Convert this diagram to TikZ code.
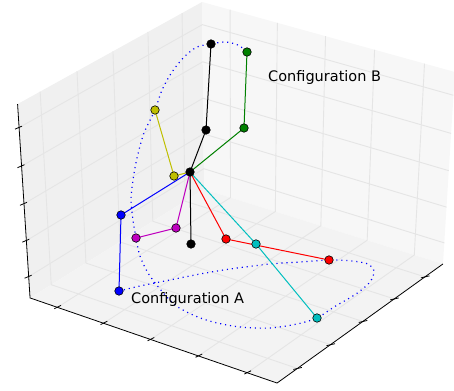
\documentclass[tikz,border=0pt]{standalone}
\usepackage{fontspec}
\setmainfont{DejaVu Sans}
\definecolor{mplyellow}{rgb}{0.75,0.75,0}
\definecolor{mplcyan}{rgb}{0,0.75,0.75}
\definecolor{mplmag}{rgb}{0.75,0,0.75}
\definecolor{mplgreen}{rgb}{0,0.5,0}
\definecolor{paneLc}{RGB}{240,240,240}
\definecolor{paneRc}{RGB}{247,247,247}
\definecolor{floorc}{RGB}{243,243,243}
\definecolor{gridc}{RGB}{229,229,229}
% perspective projection (elev 35, azim -55, dist 10), result in pixel coords
\newcommand\Pj[4]{%
 \pgfmathsetmacro\Pu{0.8192*(#2)+0.5736*(#3)}%
 \pgfmathsetmacro\Pv{-0.3290*(#2)+0.4699*(#3)+0.8192*(#4)}%
 \pgfmathsetmacro\Pd{10-(0.4699*(#2)-0.6711*(#3)+0.5736*(#4))}%
 \pgfmathsetmacro\Px{238.5+3050*\Pu/\Pd}%
 \pgfmathsetmacro\Py{187.1-2353*\Pv/\Pd}%
 \coordinate (#1) at (\Px,\Py);}
\begin{document}
\begin{tikzpicture}[x=1pt,y=-1pt,
  gridline/.style={draw=gridc,line width=0.9pt},
  axisline/.style={draw=black,line width=0.8pt},
  limb/.style={line width=1pt},
  marker/.style={circle,inner sep=0pt,minimum size=8.5pt,draw=black,line width=0.6pt},
  pathdots/.style={draw=blue,line width=1.2pt,dash pattern=on 1.1pt off 3.9pt},
  lab/.style={anchor=base west,inner sep=0pt,font=\fontsize{14.5}{17}\selectfont,text=black}]
\useasboundingbox (0,0) rectangle (454,390);
% box corners
\Pj{L}{-0.5}{-0.5}{-0.5}
\Pj{F}{0.5}{-0.5}{-0.5}
\Pj{R}{0.5}{0.5}{-0.5}
\Pj{B}{-0.5}{0.5}{-0.5}
\Pj{LT}{-0.5}{-0.5}{0.5}
\Pj{RT}{0.5}{0.5}{0.5}
\Pj{BT}{-0.5}{0.5}{0.5}
% panes
\fill[paneLc] (L) -- (B) -- (BT) -- (LT) -- cycle;
\fill[paneRc] (B) -- (R) -- (RT) -- (BT) -- cycle;
\fill[floorc] (L) -- (F) -- (R) -- (B) -- cycle;
% grid
\foreach \t in {-0.3846,-0.1923,0,0.1923,0.3846}{
  \Pj{ga}{\t}{-0.5}{-0.5}\Pj{gb}{\t}{0.5}{-0.5}\Pj{gc}{\t}{0.5}{0.5}
  \draw[gridline] (ga) -- (gb) -- (gc);
  \Pj{ha}{0.5}{\t}{-0.5}\Pj{hb}{-0.5}{\t}{-0.5}\Pj{hc}{-0.5}{\t}{0.5}
  \draw[gridline] (ha) -- (hb) -- (hc);
  \Pj{ka}{-0.5}{-0.5}{\t}\Pj{kb}{-0.5}{0.5}{\t}\Pj{kc}{0.5}{0.5}{\t}
  \draw[gridline] (ka) -- (kb) -- (kc);
}
% axes
\draw[axisline] (LT) -- (L) -- (F) -- (R);
\foreach \t in {-0.3846,-0.1923,0,0.1923,0.3846}{
  \Pj{tx}{\t}{-0.5}{-0.5}
  \draw[axisline] ([shift={(-3,1.3)}]tx) -- ([shift={(3.7,-2)}]tx);
  \Pj{ty}{0.5}{\t}{-0.5}
  \draw[axisline] ([shift={(-4,1)}]ty) -- ([shift={(4.5,-1)}]ty);
  \Pj{tz}{-0.5}{-0.5}{\t}
  \draw[axisline] ([shift={(-4,1.5)}]tz) -- ([shift={(3,-1.5)}]tz);
}
% data points
\coordinate (c0) at (190,172);
\coordinate (k1) at (206,130); \coordinate (k2) at (211,44);
\coordinate (g1) at (244,128); \coordinate (g2) at (247,52);
\coordinate (y1) at (174,176); \coordinate (y2) at (155,110);
\coordinate (b1) at (121,215); \coordinate (b2) at (119,291);
\coordinate (m1) at (176,228); \coordinate (m2) at (136,238);
\coordinate (k3) at (191,244);
\coordinate (r1) at (226,239); \coordinate (r2) at (329,260);
\coordinate (q1) at (256,244); \coordinate (q2) at (317,318);
% dotted path
\draw[pathdots] plot[smooth,tension=0.5] coordinates {
 (b2) (140,286) (170,280) (200,274) (230,269) (270,264) (300,262) (r2)
 (352,261) (368,264) (374,271) (370,282) (356,294) (334,307) (q2)
 (297,324) (270,328) (240,327) (213,322) (193,315) (175,305) (160,289)
 (148,273) (140,256) (m2) (133,220) (131,200) (133,180) (137,158)
 (144,133) (y2) (162,90) (172,72) (184,57) (197,47) (k2) (225,42)
 (238,45) (g2)};
% limbs
\draw[limb,black] (c0) -- (k1) -- (k2);
\draw[limb,mplgreen] (c0) -- (g1) -- (g2);
\draw[limb,mplyellow] (c0) -- (y1) -- (y2);
\draw[limb,blue] (c0) -- (b1) -- (b2);
\draw[limb,mplmag] (c0) -- (m1) -- (m2);
\draw[limb,black] (c0) -- (k3);
\draw[limb,red] (c0) -- (r1) -- (r2);
\draw[limb,mplcyan] (c0) -- (q1) -- (q2);
% markers
\node[marker,fill=black] (nk1) at (k1) {};
\node[marker,fill=black] (nk2) at (k2) {};
\node[marker,fill=mplgreen] (ng1) at (g1) {};
\node[marker,fill=mplgreen] (ng2) at (g2) {};
\node[marker,fill=mplyellow] (ny1) at (y1) {};
\node[marker,fill=mplyellow] (ny2) at (y2) {};
\node[marker,fill=blue] (nb1) at (b1) {};
\node[marker,fill=blue] (nb2) at (b2) {};
\node[marker,fill=mplmag] (nm1) at (m1) {};
\node[marker,fill=mplmag] (nm2) at (m2) {};
\node[marker,fill=black] (nk3) at (k3) {};
\node[marker,fill=red] (nr1) at (r1) {};
\node[marker,fill=red] (nr2) at (r2) {};
\node[marker,fill=mplcyan] (nq1) at (q1) {};
\node[marker,fill=mplcyan] (nq2) at (q2) {};
\node[marker,fill=black] (nc0) at (c0) {};
% labels
\node[lab] (labB) at (268,81.5) {Configuration B};
\node[lab] (labA) at (131,303) {Configuration A};
\end{tikzpicture}
\end{document}
